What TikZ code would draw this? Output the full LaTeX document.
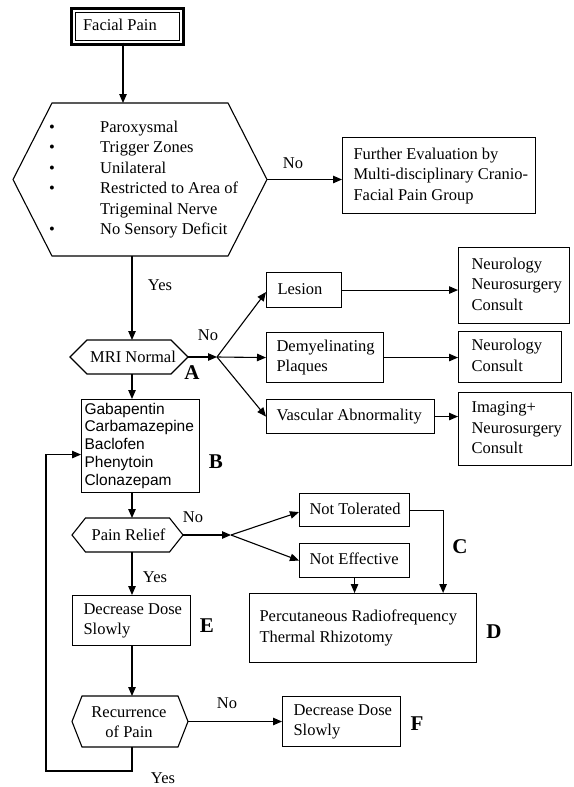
\documentclass[tikz,border=0pt]{standalone}
\usepackage{fontspec}
\setmainfont{Liberation Serif}
\newfontfamily\arialfam{Liberation Sans}
\usetikzlibrary{arrows.meta}
\newcommand\txtf{\fontsize{16.5}{20.4}\selectfont}
\newcommand\drugf{\arialfam\fontsize{15.5}{17.8}\selectfont}
\newcommand\bigf{\bfseries\fontsize{21}{24}\selectfont}
\newcommand\bx[2]{\makebox[#1][l]{\begin{tabular}{@{}l@{}}#2\end{tabular}}}
\begin{document}
\begin{tikzpicture}[x=1pt,y=-1pt,
 ln/.style={line width=1.1pt},
 arr/.style={ln,-{Triangle[length=9pt,width=7.5pt]}},
 box/.style={draw,ln,anchor=north west,inner ysep=0pt,font=\txtf},
 hexbody/.style={inner sep=0pt,outer sep=0pt},
 hexline/.style={ln,line join=miter},
 txt/.style={inner sep=0pt,font=\txtf},
 letter/.style={inner sep=0pt,font=\bigf}]
\fill[white] (0,0) rectangle (573,787);
\useasboundingbox (0,0) rectangle (573,787);
\coordinate (spine) at (132,0);

% Facial Pain
\node[draw,double,double distance=1.6pt,ln,inner xsep=9pt,inner ysep=0pt,minimum height=31pt,font=\txtf] (facial) at (127.5,26.5) {\bx{89pt}{Facial Pain}};
\draw[line width=1.6pt] ([shift={(-2.4pt,2.4pt)}]facial.north west) rectangle ([shift={(2.4pt,-2.4pt)}]facial.south east);

% main hexagon
\node[hexbody,minimum width=176pt,minimum height=153pt] (hA) at (140,179.5) {};
\draw[hexline] ([xshift=-39pt]hA.west) -- (hA.north west) -- (hA.north east) -- ([xshift=39pt]hA.east) -- (hA.south east) -- (hA.south west) -- cycle;
\coordinate (hAe) at ([xshift=39pt]hA.east);
\node[anchor=west,inner sep=0pt,font=\txtf] (hAtext) at (49,179.5) {\begin{tabular}{@{}p{51pt}@{}l@{}}
\textbullet & Paroxysmal\\
\textbullet & Trigger Zones\\
\textbullet & Unilateral\\
\textbullet & Restricted to Area of\\
 & Trigeminal Nerve\\
\textbullet & No Sensory Deficit
\end{tabular}};

% Further evaluation
\node[box,inner xsep=11pt,minimum height=76pt] (further) at (342,137) {\bx{171pt}{Further Evaluation by\\Multi-disciplinary Cranio-\\Facial Pain Group}};

% MRI hexagon
\node[hexbody,minimum width=84pt,minimum height=34pt] (mri) at (129,357) {};
\draw[hexline] ([xshift=-17pt]mri.west) -- (mri.north west) -- (mri.north east) -- ([xshift=17pt]mri.east) -- (mri.south east) -- (mri.south west) -- cycle;
\coordinate (mrie) at ([xshift=17pt]mri.east);
\node[txt] (mritext) at (133,357) {MRI Normal};
\coordinate (br1) at (217,357);

% MRI branches
\node[box,inner xsep=11pt,minimum height=35pt] (lesion) at (266,272) {\bx{53pt}{Lesion}};
\node[box,inner xsep=10pt,minimum height=50pt] (demyel) at (266,332) {\bx{97pt}{Demyelinating\\Plaques}};
\node[box,inner xsep=10pt,minimum height=34pt] (vascular) at (266,399) {\bx{148pt}{Vascular Abnormality}};
\node[box,inner xsep=13pt,minimum height=76pt] (neuro1) at (458,247) {\bx{85pt}{Neurology\\Neurosurgery\\Consult}};
\node[box,inner xsep=13pt,minimum height=51pt] (neuro2) at (458,331) {\bx{77pt}{Neurology\\Consult}};
\node[box,inner xsep=13pt,minimum height=73pt] (imaging) at (458,392) {\bx{87pt}{Imaging+\\Neurosurgery\\Consult}};

% drugs
\node[box,font=\drugf,inner xsep=3pt,minimum height=93pt] (drugs) at (81,399) {\bx{112pt}{Gabapentin\\Carbamazepine\\Baclofen\\Phenytoin\\Clonazepam}};

% Pain relief hexagon
\node[hexbody,minimum width=84pt,minimum height=34pt] (pain) at (127.5,535) {};
\draw[hexline] ([xshift=-13.5pt]pain.west) -- (pain.north west) -- (pain.north east) -- ([xshift=13.5pt]pain.east) -- (pain.south east) -- (pain.south west) -- cycle;
\coordinate (paine) at ([xshift=13.5pt]pain.east);
\node[txt] (paintext) at (128.5,535) {Pain Relief};
\coordinate (br2) at (231,535);

\node[box,inner xsep=10pt,minimum height=33pt] (nottol) at (299,493) {\bx{90pt}{Not Tolerated}};
\node[box,inner xsep=10pt,minimum height=34pt] (noteff) at (299,543) {\bx{90pt}{Not Effective}};
\node[box,inner xsep=10pt,minimum height=69pt] (perc) at (249,593) {\bx{207pt}{Percutaneous Radiofrequency\\Thermal Rhizotomy}};

\node[box,inner xsep=11pt,minimum height=50pt] (decE) at (72,595) {\bx{96pt}{Decrease Dose\\Slowly}};

% Recurrence hexagon
\node[hexbody,minimum width=96pt,minimum height=51pt] (rec) at (130,721.5) {};
\draw[hexline] ([xshift=-10pt]rec.west) -- (rec.north west) -- (rec.north east) -- ([xshift=10pt]rec.east) -- (rec.south east) -- (rec.south west) -- cycle;
\coordinate (rece) at ([xshift=10pt]rec.east);
\node[txt,align=center] (rectext) at (129,722) {Recurrence\\of Pain};

\node[box,inner xsep=11pt,minimum height=50pt] (decF) at (282,696) {\bx{96pt}{Decrease Dose\\Slowly}};

% connectors
\draw[arr] ([xshift=-4.5pt]facial.south) -- ([xshift=-4.5pt]facial.south |- hA.north);
\draw[arr] (hAe) -- (hAe -| further.west);
\node[txt] (no1) at (293,163) {No};
\draw[arr] (hA.south -| spine) -- (mri.north -| spine);
\node[txt] (yes1) at (160,285) {Yes};
\draw[arr] (mrie) -- (br1);
\node[txt] (no2) at (208,335) {No};
\draw[arr] (br1) -- ([yshift=-2pt]lesion.west);
\draw[arr] (br1) -- (demyel.west);
\draw[arr] (br1) -- (vascular.west);
\draw[arr] (lesion.east) -- (lesion.east -| neuro1.west);
\draw[arr] (demyel.east) -- (demyel.east -| neuro2.west);
\draw[arr] (vascular.east) -- (vascular.east -| imaging.west);
\draw[arr] (mri.south -| spine) -- (drugs.north -| spine);
\draw[arr] (drugs.south -| spine) -- (pain.north -| spine);
\draw[arr] (paine) -- (br2);
\node[txt] (no3) at (193,517) {No};
\draw[arr] (br2) -- ([yshift=-2pt]nottol.west);
\draw[arr] (br2) -- (noteff.west);
\draw[arr] (nottol.east) -| ([xshift=-34pt]perc.north east);
\draw[arr] (noteff.south) -- (noteff.south |- perc.north);
\draw[arr] (pain.south -| spine) -- (decE.north -| spine);
\node[txt] (yes2) at (155,577) {Yes};
\draw[arr] (decE.south -| spine) -- (rec.north -| spine);
\draw[arr] (rece) -- (rece -| decF.west);
\node[txt] (no4) at (227,703) {No};
\coordinate (loopc) at (46,771);
\draw[arr] (rec.south -| spine) |- (loopc) |- ([yshift=-8.5pt]drugs.west);
\node[txt] (yes3) at (163,778) {Yes};

% letters
\node[letter] (la) at (192,373) {A};
\node[letter] (lb) at (216,462) {B};
\node[letter] (lc) at (460,547) {C};
\node[letter] (ld) at (494,632) {D};
\node[letter] (le) at (207,626) {E};
\node[letter] (lf) at (417,724) {F};
\end{tikzpicture}
\end{document}
